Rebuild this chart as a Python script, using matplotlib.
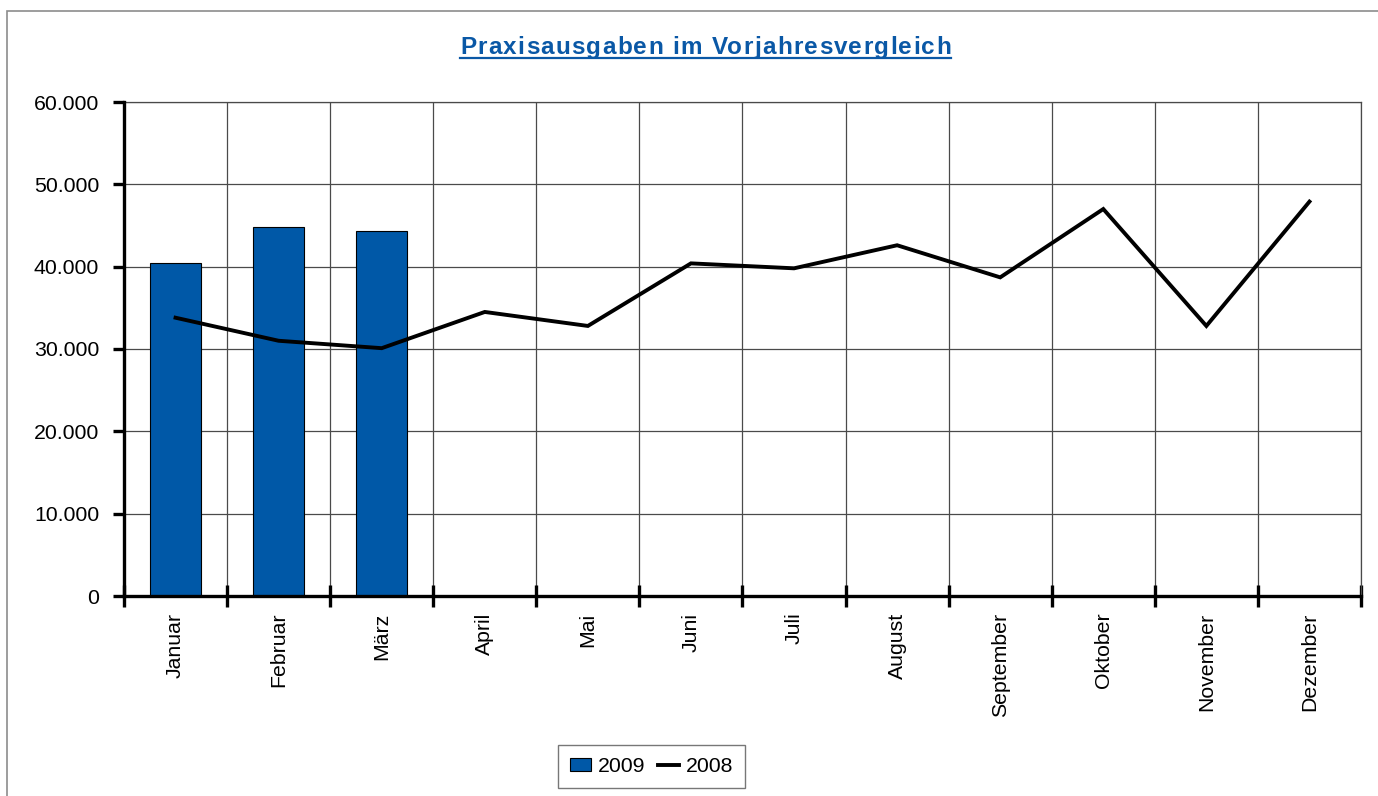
import matplotlib
matplotlib.use("Agg")
import matplotlib.pyplot as plt
from matplotlib.patches import Rectangle
from matplotlib.lines import Line2D
import numpy as np

plt.rcParams['font.family'] = ['Liberation Sans', 'DejaVu Sans']

months = ["Januar", "Februar", "März", "April", "Mai", "Juni", "Juli",
          "August", "September", "Oktober", "November", "Dezember"]
values_2009 = [40500, 44800, 44300]
values_2008 = [33800, 31000, 30100, 34500, 32800, 40400, 39800, 42600,
               38700, 47000, 32800, 47900]
yticks = [0, 10000, 20000, 30000, 40000, 50000, 60000]
ytick_labels = ["0", "10.000", "20.000", "30.000", "40.000", "50.000", "60.000"]
title = "Praxisausgaben im Vorjahresvergleich"

W, H = 1378, 796
fig = plt.figure(figsize=(W / 100, H / 100), dpi=100)
fig.patch.set_facecolor("white")

# outer chart frame
fig.add_artist(Rectangle((6.5 / W, -0.01), 1.02, 1 - 11 / H + 0.01,
                         transform=fig.transFigure, fill=False,
                         edgecolor="#8c8c8c", linewidth=1.2))

ax = fig.add_axes([124 / W, 1 - 596 / H, (1361 - 124) / W, (596 - 102) / H])
x = np.arange(len(months))
grid_color = "#4a4a4a"
fs = 15.3

ax.bar(x[:len(values_2009)], values_2009, width=0.5, color="#0058A7",
       edgecolor="black", linewidth=0.8, zorder=3, label="2009")
ax.plot(x, values_2008, color="black", linewidth=2.8, zorder=4, label="2008",
        solid_joinstyle="miter")

ax.set_xlim(-0.5, len(months) - 0.5)
ax.set_ylim(0, 60000)
ax.set_yticks(yticks)
ax.set_yticklabels(ytick_labels, fontsize=fs)
ax.set_xticks(x)
ax.set_xticklabels(months, rotation=90, fontsize=fs, va="top")
ax.set_xticks(np.arange(-0.5, len(months), 1.0), minor=True)

ax.tick_params(axis="x", which="major", length=0, pad=12)
ax.tick_params(axis="x", which="minor", direction="inout", length=16,
               width=2.4, color="black")
ax.tick_params(axis="y", which="major", direction="out", length=8,
               width=2.4, pad=10)

ax.grid(True, axis="y", which="major", color=grid_color, linewidth=0.9, zorder=0)
ax.grid(True, axis="x", which="minor", color=grid_color, linewidth=0.9, zorder=0)
ax.grid(False, axis="x", which="major")
ax.set_axisbelow(True)

for s in ["left", "bottom"]:
    ax.spines[s].set_linewidth(2.4)
    ax.spines[s].set_color("black")
    ax.spines[s].set_zorder(5)
for s in ["top", "right"]:
    ax.spines[s].set_linewidth(0.9)
    ax.spines[s].set_color(grid_color)

# title with letter spacing and underline
title_color = "#0A58A6"
title_fs = 17.5
title_left, title_right = 460.0, 951.0
baseline_y = 1 - 54 / H
renderer = fig.canvas.get_renderer()


def text_width(s):
    tmp = fig.text(0, 0, s, fontsize=title_fs, fontweight="bold")
    w = tmp.get_window_extent(renderer=renderer).width
    tmp.remove()
    return w


full_w = text_width(title)
n = len(title)
spacing = (title_right - title_left - full_w) / (n - 1)
for i, ch in enumerate(title):
    if ch == " ":
        continue
    left = text_width(title[:i + 1]) - text_width(ch) + i * spacing
    fig.text((title_left + left) / W, baseline_y, ch, ha="left", va="baseline",
             fontsize=title_fs, fontweight="bold", color=title_color)
fig.add_artist(Line2D([title_left / W, title_right / W], [1 - 57.5 / H, 1 - 57.5 / H],
                      transform=fig.transFigure, color=title_color, linewidth=1.6))

handles = [Rectangle((0, 0), 1, 1, facecolor="#0058A7", edgecolor="black", linewidth=0.8),
           Line2D([0], [0], color="black", linewidth=2.8)]
leg = fig.legend(handles, ["2009", "2008"], loc="center",
                 bbox_to_anchor=(651.5 / W, 1 - 766.5 / H), ncol=2, fontsize=fs,
                 frameon=True, fancybox=False, edgecolor="#555555",
                 handlelength=1.0, handleheight=0.6, handletextpad=0.3,
                 columnspacing=0.6, borderpad=0.55, borderaxespad=0)
leg.get_frame().set_linewidth(1.0)

fig.savefig("out.png", dpi=100, facecolor="white")
